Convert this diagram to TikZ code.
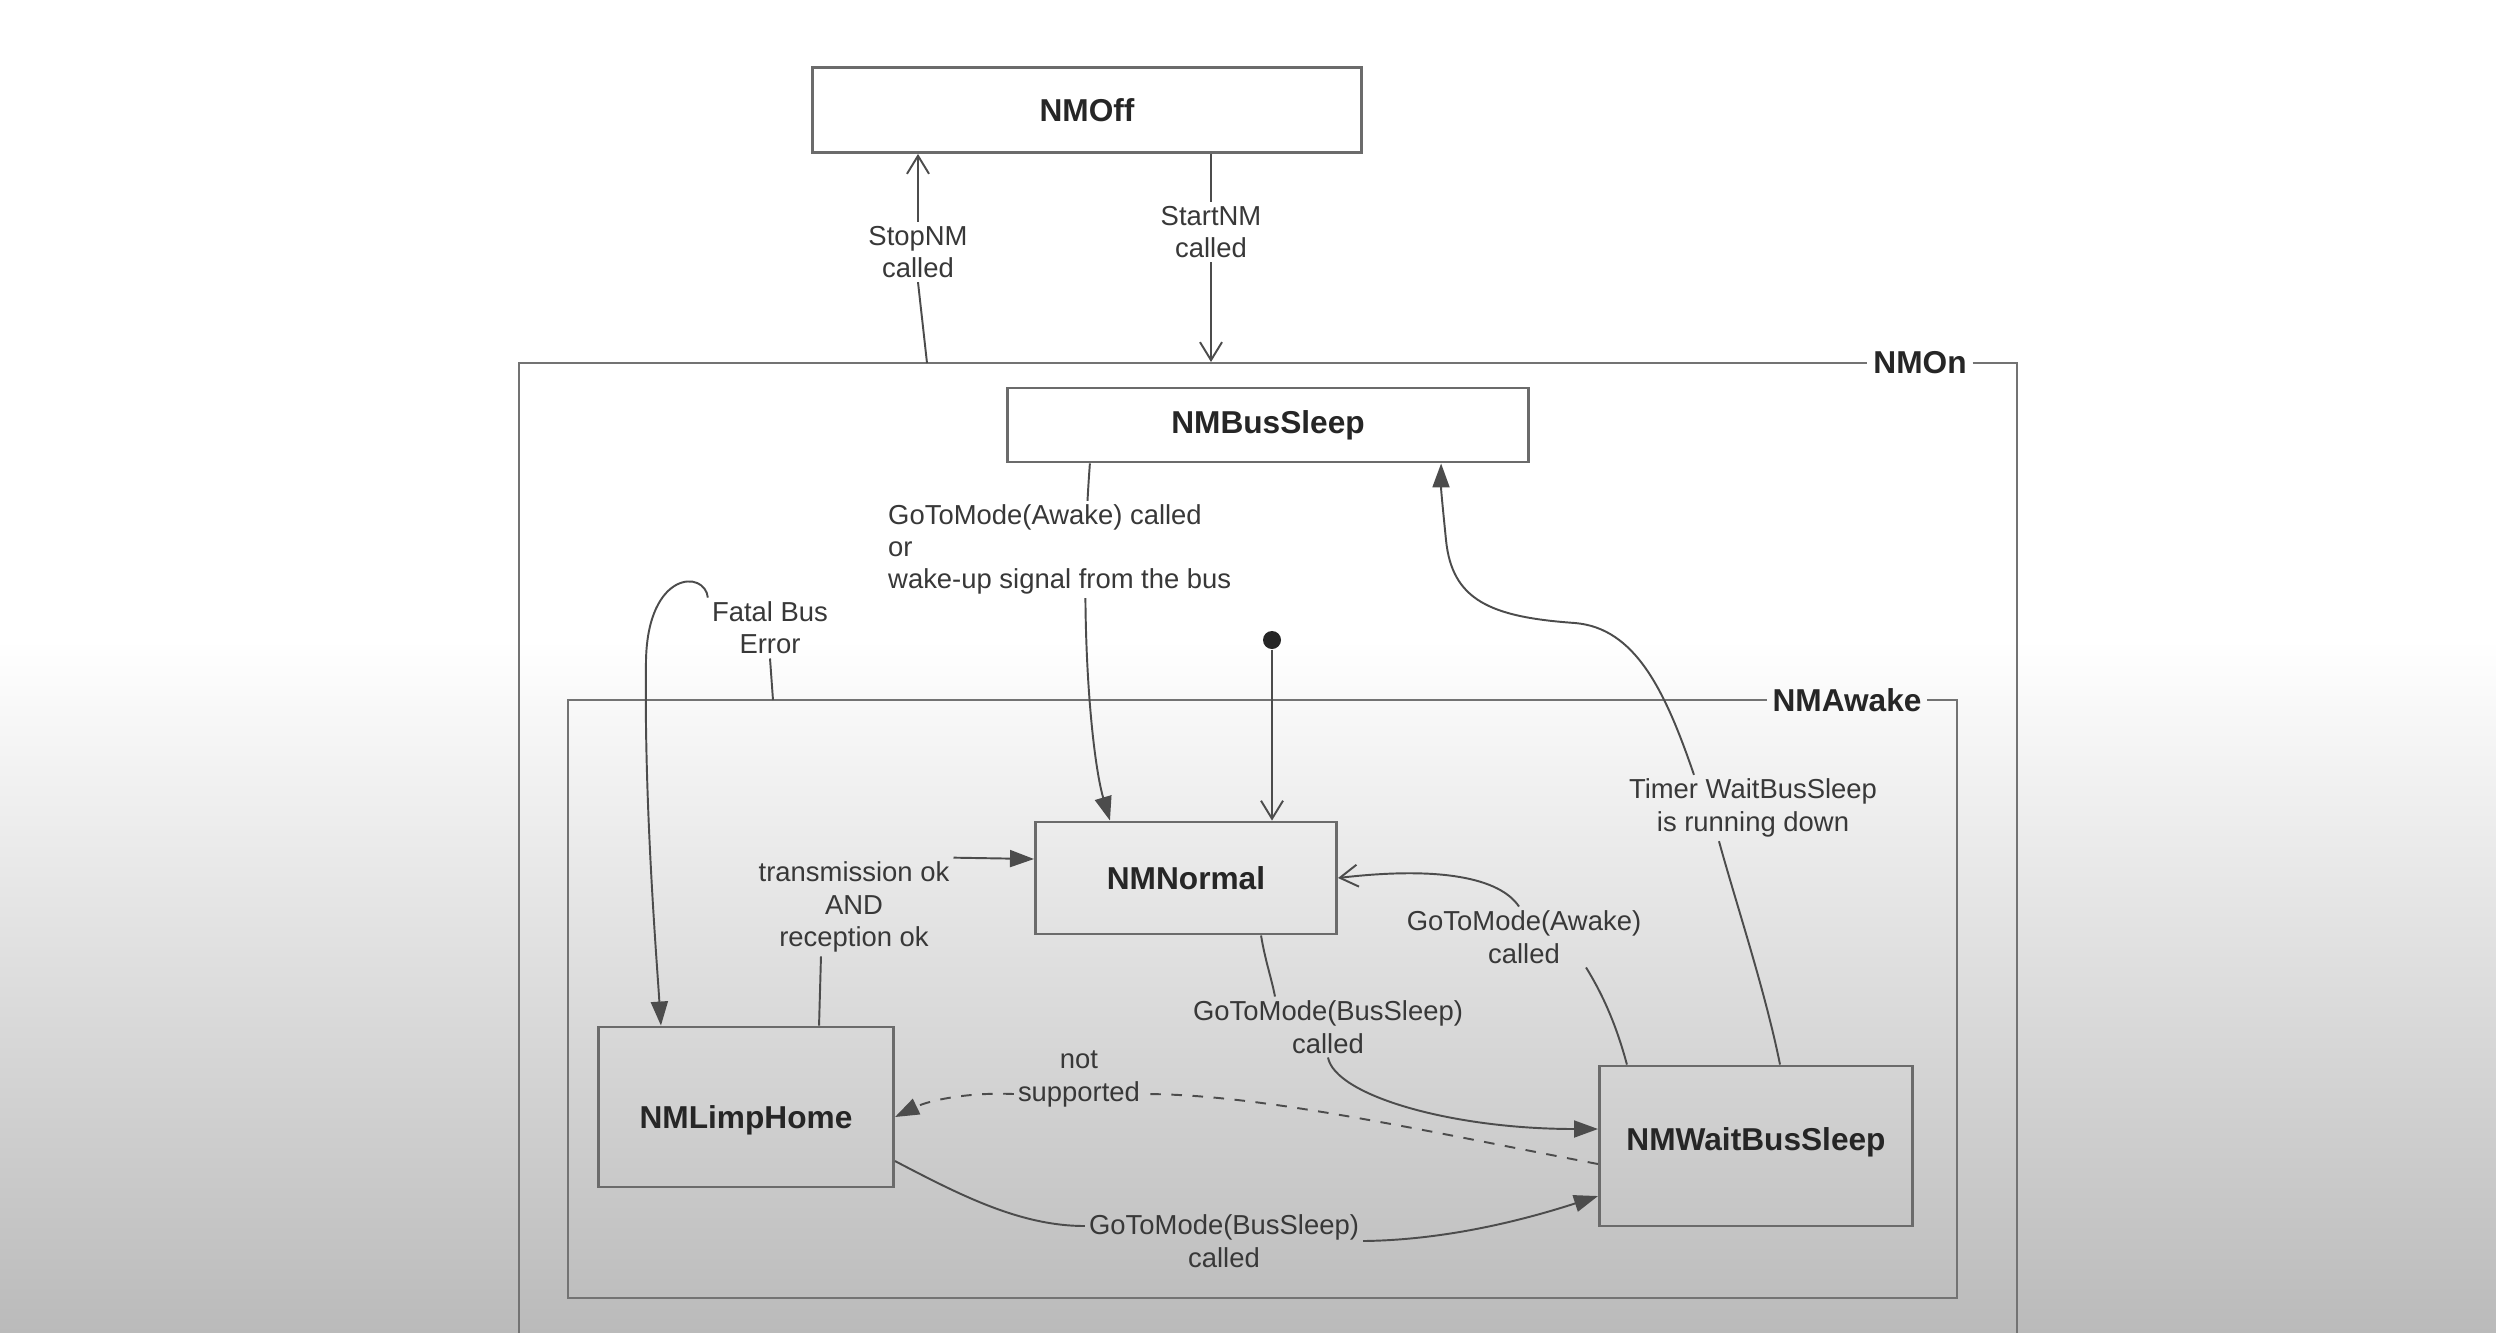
\documentclass[tikz,border=0pt]{standalone}
\usepackage{fontspec}
\setmainfont{Liberation Sans}
\usetikzlibrary{arrows.meta}
\tikzset{
	statebox/.style={draw=black!58, line width=0.8pt, inner sep=0pt,
			font=\bfseries\fontsize{9}{11}\selectfont, text=black!85},
	guard/.style={font=\fontsize{7.8}{9.2}\selectfont, text=black!78,
			align=center, inner sep=1pt},
	framelbl/.style={font=\bfseries\fontsize{9}{11}\selectfont, text=black!85, inner sep=1.5pt},
	frameline/.style={draw=black!55, line width=0.8pt},
	conn/.style={draw=black!70, line width=0.55pt},
	filltip/.style={conn, -{Triangle[length=2.4mm,width=1.7mm]}},
	opentip/.style={conn, -{Straight Barb[length=1.8mm,width=2.2mm]}}
}
\begin{document}
\begin{tikzpicture}[x=0.01cm,y=-0.01cm]
	\useasboundingbox (0,0) rectangle (2496,1332);
	\clip (0,0) rectangle (2496,1332);
	\fill[white] (0,0) rectangle (2496,1332);
	\shade[top color=white, bottom color=black!27] (0,640) rectangle (2496,1332);

	\node[statebox, minimum width=5.48cm, minimum height=0.85cm] (nmoff) at (1087,110) {NMOff};
	\node[statebox, minimum width=5.2cm, minimum height=0.74cm] (nmbussleep) at (1268,425) {NMBusSleep};
	\node[statebox, minimum width=3.01cm, minimum height=1.12cm] (nmnormal) at (1186,878) {NMNormal};
	\node[statebox, minimum width=2.95cm, minimum height=1.6cm, text height=14pt] (nmlimphome) at (746,1107) {NMLimpHome};
	\node[statebox, minimum width=3.13cm, minimum height=1.6cm, text depth=4pt] (nmwaitbussleep) at (1756,1146) {NMWaitBusSleep};
	\node[circle, fill=black!85, minimum size=0.18cm, inner sep=0pt] (init) at (1272,640) {};

	\node[framelbl] (lnmon) at (1920,363) {NMOn};
	\coordinate (nmonse) at (2017,1420);
	\coordinate (nmonnw) at (519,363);
	\draw[frameline] (lnmon.east) -| (nmonse) -| (nmonnw) -- (lnmon.west);

	\node[framelbl] (lnmawake) at (1847,700) {NMAwake};
	\coordinate (awakese) at (1957,1298);
	\coordinate (awakenw) at (568,700);
	\draw[frameline] (lnmawake.east) -| (awakese) -| (awakenw) -- (lnmawake.west);

	\node[guard] (lstop) at (918,252) {StopNM\\called};
	\coordinate (stopfoot) at (927,363);
	\draw[conn] (stopfoot) -- (lstop.south);
	\draw[opentip] (lstop.north) -- (lstop.north |- nmoff.south);

	\node[guard] (lstart) at (1211,232) {StartNM\\called};
	\coordinate (startfoot) at (1211,362);
	\draw[conn] (lstart.north |- nmoff.south) -- (lstart.north);
	\draw[opentip] (lstart.south) -- (startfoot);

	\draw[filltip] ([xshift=-1.78cm]nmbussleep.south) .. controls (1078,620) and (1092,760) .. ([xshift=-0.76cm]nmnormal.north);
	\node[guard, align=left, fill=white, anchor=north west] (lwake) at (884,500) {GoToMode(Awake) called\\or\\wake-up signal from the bus};

	\draw[opentip] (init) -- (init |- nmnormal.north);

	\node[guard] (lfatal) at (770,628) {Fatal Bus\\Error};
	\coordinate (fatalfoot) at (773,700);
	\draw[conn] (fatalfoot) -- (lfatal.south);
	\draw[filltip] (lfatal.north west) .. controls (705,570) and (648,570) .. (646,660)
		.. controls (644,800) and (656,950) .. ([xshift=-0.85cm]nmlimphome.north);

	\node[guard] (ltimer) at (1753,808) {Timer WaitBusSleep\\is running down};
	\draw[conn] ([xshift=0.24cm]nmwaitbussleep.north) .. controls (1765,990) and (1735,900) .. ([xshift=-0.34cm]ltimer.south);
	\draw[filltip] ([xshift=-0.59cm]ltimer.north) .. controls (1665,690) and (1635,628) .. (1575,623)
		.. controls (1490,617) and (1452,600) .. (1446,540) .. controls (1443,510) and (1441,490) .. ([xshift=1.73cm]nmbussleep.south);

	\node[guard] (lawake) at (1524,937) {GoToMode(Awake)\\called};
	\draw[conn] ([xshift=-1.29cm]nmwaitbussleep.north) .. controls (1615,1020) and (1600,990) .. ([xshift=0.62cm]lawake.south);
	\draw[opentip] ([xshift=-0.05cm]lawake.north) .. controls (1500,878) and (1440,866) .. (nmnormal.east);

	\node[guard] (lsleep) at (1328,1027) {GoToMode(BusSleep)\\called};
	\draw[conn] ([xshift=0.75cm]nmnormal.south) .. controls (1265,960) and (1272,980) .. ([xshift=-0.53cm]lsleep.north);
	\draw[filltip] (lsleep.south) .. controls (1335,1095) and (1450,1129) .. ([yshift=0.17cm]nmwaitbussleep.west);

	\node[guard] (ltrans) at (854,907) {transmission ok\\AND\\reception ok};
	\draw[conn] ([xshift=0.73cm]nmlimphome.north) -- ([xshift=-0.33cm]ltrans.south);
	\draw[filltip] (ltrans.north east) -- ([yshift=0.19cm]nmnormal.west);

	\node[guard] (lnotsup) at (1079,1079) {not\\supported};
	\draw[conn, dashed] ([yshift=-0.18cm]nmwaitbussleep.west) .. controls (1420,1130) and (1260,1094) .. ([yshift=-0.15cm]lnotsup.east);
	\draw[filltip, dashed] ([yshift=-0.15cm]lnotsup.west) .. controls (970,1092) and (930,1100) .. ([yshift=-0.1cm]nmlimphome.west -| nmlimphome.east);

	\node[guard] (lsleepb) at (1224,1241) {GoToMode(BusSleep)\\called};
	\draw[conn] ([yshift=-0.54cm]nmlimphome.east) .. controls (960,1195) and (1020,1226) .. ([yshift=0.15cm]lsleepb.west);
	\draw[filltip] (lsleepb.east) .. controls (1450,1240) and (1530,1218) .. ([yshift=-0.5cm]nmwaitbussleep.west);
\end{tikzpicture}
\end{document}
